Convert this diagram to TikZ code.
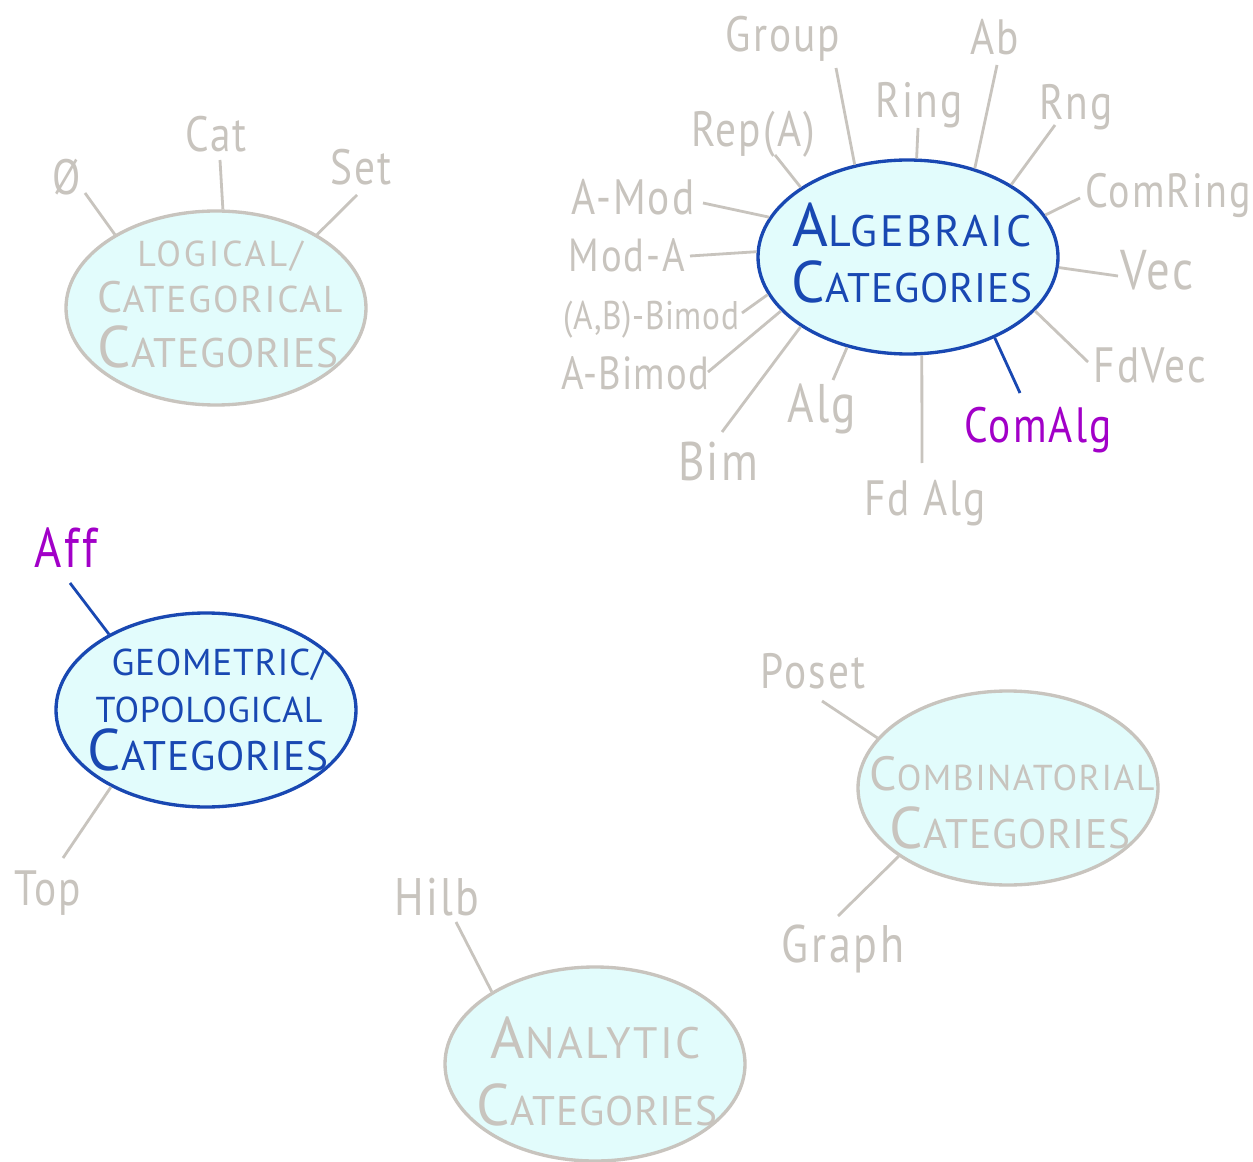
\documentclass[tikz,border=0pt]{standalone}
\usepackage{fontspec}
\setmainfont{PT Sans}
\usetikzlibrary{shapes.geometric}
\definecolor{inkgray}{RGB}{200,196,190}
\definecolor{cellfill}{RGB}{226,252,252}
\definecolor{inkblue}{RGB}{25,72,178}
\definecolor{inkpurple}{RGB}{162,0,200}
\newcommand\fs[1]{\fontsize{#1}{#1}\selectfont}
\newcommand\spaced[1]{\addfontfeatures{LetterSpace=#1}}
% big initial letter followed by smaller capitals
\newcommand\capword[4]{{\fs{#1}#2}{\fs{#3}#4}}
% tall, loosely set handwriting-like label text
\newcommand\hand[1]{\scalebox{1}[1.2]{#1}}
\begin{document}
\begin{tikzpicture}[x=0.75pt,y=-0.75pt,
  family/.style={ellipse, line width=2.5pt, fill=cellfill, minimum width=225pt,
    minimum height=145.5pt, inner sep=0pt},
  title/.style={anchor=base, inner sep=0pt},
  lbl/.style={anchor=base, inner sep=0pt, text=inkgray, font=\fs{31}\spaced{5}},
  spoke/.style={line width=2.1pt, draw=inkgray},
  bluespoke/.style={line width=2.1pt, draw=inkblue}]
\useasboundingbox (0,0) rectangle (1253,1162);
\fill[white] (0,0) rectangle (1253,1162);

% ---- category families ----
\node[family, draw=inkgray] (logical) at (216,308) {};
\node[family, draw=inkblue] (algebraic) at (908,257) {};
\node[family, draw=inkblue] (geometric) at (206,710) {};
\node[family, draw=inkgray] (combinatorial) at (1008,788) {};
\node[family, draw=inkgray] (analytic) at (595,1064) {};

% ---- family titles ----
\node[title, text=inkgray] (logicalA) at (220,267) {\fs{27}\spaced{8}LOGICAL/};
\node[title, text=inkgray] (logicalB) at (220,313) {\spaced{5}\capword{33}{C}{28}{ATEGORICAL}};
\node[title, text=inkgray] (logicalC) at (218,368) {\spaced{2}\capword{44}{C}{31}{ATEGORIES}};

\node[title, text=inkblue] (algebraicA) at (912,247) {\spaced{6}\capword{46}{A}{33}{LGEBRAIC}};
\node[title, text=inkblue] (algebraicB) at (912,303) {\spaced{2}\capword{44}{C}{31}{ATEGORIES}};

\node[title, text=inkblue] (geometricA) at (218,675) {\spaced{2}\fs{28}GEOMETRIC/};
\node[title, text=inkblue] (geometricB) at (209,722) {\spaced{2}\fs{27}TOPOLOGICAL};
\node[title, text=inkblue] (geometricC) at (208,770) {\spaced{2}\capword{44}{C}{31}{ATEGORIES}};

\node[title, text=inkgray] (combinatorialA) at (1012,790) {\spaced{4}\capword{36}{C}{27}{OMBINATORIAL}};
\node[title, text=inkgray] (combinatorialB) at (1010,848) {\spaced{2}\capword{44}{C}{31}{ATEGORIES}};

\node[title, text=inkgray] (analyticA) at (596,1058) {\spaced{6}\capword{44}{A}{33}{NALYTIC}};
\node[title, text=inkgray] (analyticB) at (597,1125) {\spaced{2}\capword{44}{C}{31}{ATEGORIES}};

% ---- example categories ----
\node[lbl] (empty) at (67,195) {\hand{Ø}};
\node[lbl] (Cat) at (216,152) {\hand{Cat}};
\node[lbl] (Set) at (361,185) {\hand{Set}};

\node[lbl] (Group) at (783,52) {\hand{Group}};
\node[lbl] (Ab) at (995,55) {\hand{Ab}};
\node[lbl] (Ring) at (919,118) {\hand{Ring}};
\node[lbl] (Rng) at (1076,120) {\hand{Rng}};
\node[lbl] (RepA) at (753,147) {\hand{Rep(A)}};
\node[lbl, font=\fs{30}\spaced{5}] (ComRing) at (1168,208) {\hand{ComRing}};
\node[lbl] (AMod) at (633,215) {\hand{A-Mod}};
\node[lbl, font=\fs{29}\spaced{5}] (ModA) at (627,272) {\hand{Mod-A}};
\node[lbl, font=\fs{35}\spaced{5}] (Vec) at (1157,290) {\hand{Vec}};
\node[lbl, font=\fs{25}\spaced{2}] (ABBimod) at (651,330) {\hand{(A,B)-Bimod}};
\node[lbl] (FdVec) at (1150,383) {\hand{FdVec}};
\node[lbl, font=\fs{29}\spaced{3}] (ABimod) at (635,390) {\hand{A-Bimod}};
\node[lbl, font=\fs{34}\spaced{5}] (Alg) at (822,422) {\hand{Alg}};
\node[lbl, text=inkpurple] (ComAlg) at (1038,443) {\hand{ComAlg}};
\node[lbl, font=\fs{34}\spaced{5}] (Bim) at (718,480) {\hand{Bim}};
\node[lbl] (FdAlg) at (925,515) {\hand{Fd Alg}};

\node[lbl, text=inkpurple, font=\fs{35}\spaced{6}] (Aff) at (66,567) {\hand{Aff}};
\node[lbl] (Top) at (48,905) {\hand{Top}};
\node[lbl] (Poset) at (813,688) {\hand{Poset}};
\node[lbl, font=\fs{33}\spaced{6}] (Graph) at (843,962) {\hand{Graph}};
\node[lbl, font=\fs{33}\spaced{5}] (Hilb) at (437,915) {\hand{Hilb}};

% ---- free ends of the spokes, next to each label ----
\coordinate (eEmpty) at (85,193);
\coordinate (eCat) at (220,160);
\coordinate (eSet) at (357,195);
\coordinate (eGroup) at (836,68);
\coordinate (eRing) at (918,128);
\coordinate (eAb) at (997,65);
\coordinate (eRng) at (1055,125);
\coordinate (eRepA) at (775,155);
\coordinate (eComRing) at (1080,198);
\coordinate (eAMod) at (703,203);
\coordinate (eModA) at (690,256);
\coordinate (eVec) at (1118,276);
\coordinate (eABBimod) at (742,313);
\coordinate (eFdVec) at (1088,362);
\coordinate (eABimod) at (708,372);
\coordinate (eBim) at (722,432);
\coordinate (eAlg) at (833,380);
\coordinate (eFdAlg) at (922,463);
\coordinate (eComAlg) at (1020,393);
\coordinate (eAff) at (70,583);
\coordinate (eTop) at (63,858);
\coordinate (ePoset) at (822,701);
\coordinate (eGraph) at (838,916);
\coordinate (eHilb) at (456,922);

% ---- spokes ----
\draw[spoke] (eEmpty) -- (logical.144.7);
\draw[spoke] (eCat) -- (logical.86.5);
\draw[spoke] (eSet) -- (logical.36.1);

\draw[spoke] (eGroup) -- (algebraic.120.9);
\draw[spoke] (eRing) -- (algebraic.85.3);
\draw[spoke] (eAb) -- (algebraic.53.2);
\draw[spoke] (eRng) -- (algebraic.35);
\draw[spoke] (eRepA) -- (algebraic.147.7);
\draw[spoke] (eComRing) -- (algebraic.17.9);
\draw[spoke] (eAMod) -- (algebraic.164.2);
\draw[spoke] (eModA) -- (algebraic.178.5);
\draw[spoke] (eVec) -- (algebraic.-4.2);
\draw[spoke] (eABBimod) -- (algebraic.195.1);
\draw[spoke] (eFdVec) -- (algebraic.-23.5);
\draw[spoke] (eABimod) -- (algebraic.203.3);
\draw[spoke] (eBim) -- (algebraic.213.1);
\draw[spoke] (eAlg) -- (algebraic.236);
\draw[spoke] (eFdAlg) -- (algebraic.278.2);
\draw[bluespoke] (eComAlg) -- (algebraic.317.3);

\draw[bluespoke] (eAff) -- (geometric.142.6);
\draw[spoke] (eTop) -- (geometric.219.6);

\draw[spoke] (ePoset) -- (combinatorial.159);
\draw[spoke] (eGraph) -- (combinatorial.212.5);

\draw[spoke] (eHilb) -- (analytic.145.2);
\end{tikzpicture}
\end{document}
